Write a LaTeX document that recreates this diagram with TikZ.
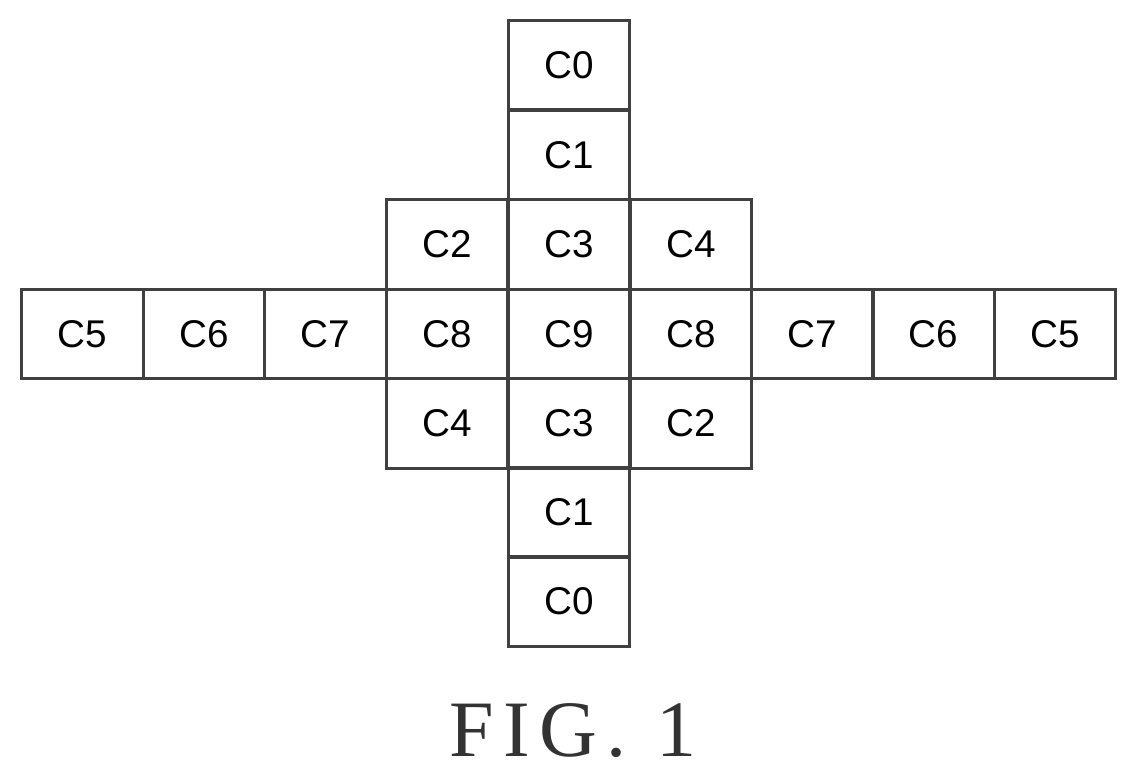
\documentclass[tikz,border=0pt]{standalone}
\usepackage{fontspec}
\setmainfont{Liberation Serif}
\setsansfont{Liberation Sans}
\usepackage{tikz}

\begin{document}
\begin{tikzpicture}[x=0.75pt,y=0.75pt,yscale=-1,xscale=1,
  cell/.style={draw=black!75,line width=2.4pt,minimum width=121.5*0.75pt,minimum height=89.5*0.75pt,inner sep=0pt,font=\sffamily\fontsize{29}{32}\selectfont}]
\useasboundingbox (0,0) rectangle (1139,778);

% vertical column
\node[cell] (c0t) at (569,65) {C0};
\node[cell] (c1t) at (569,155) {C1};
% upper row
\node[cell] (c2t) at (447,244.5) {C2};
\node[cell] (c3t) at (569,244.5) {C3};
\node[cell] (c4t) at (691,244.5) {C4};
% middle row
\node[cell] (c5l) at (82.5,334) {C5};
\node[cell] (c6l) at (204,334) {C6};
\node[cell] (c7l) at (325.5,334) {C7};
\node[cell] (c8l) at (447,334) {C8};
\node[cell] (c9) at (569,334) {C9};
\node[cell] (c8r) at (691,334) {C8};
\node[cell] (c7r) at (812.5,334) {C7};
\node[cell] (c6r) at (933.5,334) {C6};
\node[cell] (c5r) at (1055,334) {C5};
% lower row
\node[cell] (c4b) at (447,423.5) {C4};
\node[cell] (c3b) at (569,423.5) {C3};
\node[cell] (c2b) at (691,423.5) {C2};
% vertical column
\node[cell] (c1b) at (569,512.5) {C1};
\node[cell] (c0b) at (569,601.5) {C0};

% Text Node
\node[font=\fontsize{60}{64}\selectfont\addfontfeature{LetterSpace=12},text=black!80] (fig) at (573,731) {FIG. 1};
\end{tikzpicture}
\end{document}
